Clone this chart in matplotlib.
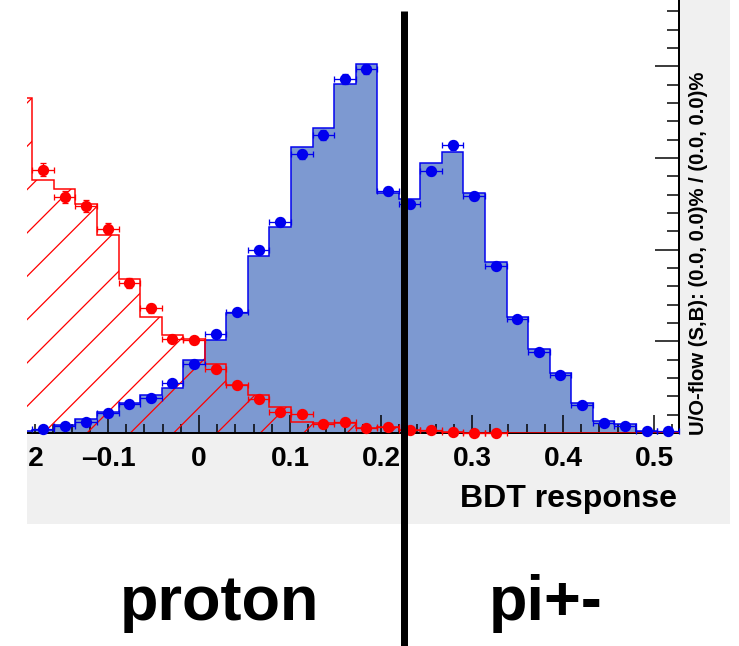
import numpy as np
import matplotlib
matplotlib.use("Agg")
import matplotlib.pyplot as plt
from matplotlib.patches import Rectangle
from matplotlib.lines import Line2D
from matplotlib.ticker import MultipleLocator

# BDT response histograms (normalised), 31 bins, first bin is mostly cut off on the left
BIN_LO, BIN_HI, N_BINS = -0.2069, 0.5275, 31

# signal (pi+-): test sample as filled histogram, training sample as points
sig_hist = [0.02, 0.033, 0.087, 0.153, 0.229, 0.327, 0.414, 0.491, 0.796, 1.014,
            1.309, 1.930, 2.246, 3.119, 3.326, 3.806, 4.024, 2.617, 2.552, 2.944,
            3.064, 2.617, 1.865, 1.265, 0.916, 0.654, 0.327, 0.131, 0.098, 0.027, 0.016]
sig_train = [0.040, 0.080, 0.117, 0.215, 0.313, 0.385, 0.542, 0.749, 1.076, 1.316,
             1.996, 2.304, 3.039, 3.250, 3.857, 3.970, 2.642, 2.494, 2.857, 3.137,
             2.581, 1.821, 1.240, 0.887, 0.633, 0.305, 0.106, 0.080, 0.025, 0.022]
sig_err = [0.006, 0.008, 0.010, 0.013, 0.016, 0.017, 0.021, 0.024, 0.029, 0.032,
           0.040, 0.043, 0.049, 0.051, 0.055, 0.056, 0.046, 0.044, 0.047, 0.050,
           0.045, 0.038, 0.031, 0.026, 0.022, 0.016, 0.009, 0.008, 0.004, 0.004]

# background (proton)
bkg_hist = [3.65, 2.76, 2.66, 2.50, 2.16, 1.68, 1.27, 1.07, 1.02, 0.75, 0.52,
            0.41, 0.28, 0.12, 0.11, 0.11, 0.05, 0.07, 0.03, 0.025, 0.01, 0.005,
            0.005, 0, 0, 0, 0, 0, 0, 0, 0]
bkg_train = [2.87, 2.57, 2.48, 2.23, 1.64, 1.36, 1.03, 1.01, 0.70, 0.52, 0.37,
             0.23, 0.21, 0.095, 0.12, 0.05, 0.06, 0.033, 0.033, 0.008, 0.003, 0.0]
bkg_err = [0.071, 0.067, 0.066, 0.063, 0.054, 0.049, 0.043, 0.042, 0.035, 0.030, 0.025,
           0.020, 0.019, 0.013, 0.015, 0.010, 0.011, 0.008, 0.008, 0.004, 0.002, 0.0]

xticks = [-0.2, -0.1, 0, 0.1, 0.2, 0.3, 0.4, 0.5]
xticklabels = ["\u20130.2", "\u20130.1", "0", "0.1", "0.2", "0.3", "0.4", "0.5"]

DPI = 130
W, H = 739, 646
PT = 72 / DPI  # points per pixel

plt.rcParams["font.family"] = ["Liberation Sans", "DejaVu Sans"]
plt.rcParams["font.weight"] = "bold"
plt.rcParams["hatch.linewidth"] = 0.7
plt.rcParams["hatch.color"] = "#ff0000"

fig = plt.figure(figsize=(W / DPI, H / DPI), dpi=DPI, facecolor="white")

# grey pad background
fig.add_artist(Rectangle((27 / W, 1 - 524 / H), (730 - 27) / W, 524 / H,
                         transform=fig.transFigure, facecolor="#f0f0f0",
                         edgecolor="none", zorder=-5))

# the frame continues past the left border of the picture
ax = fig.add_axes([0, 1 - 433 / H, 679 / W, 433 / H])
ax.set_facecolor("white")

edges = np.linspace(BIN_LO, BIN_HI, N_BINS + 1)
centers = 0.5 * (edges[:-1] + edges[1:])
half_w = 0.5 * (edges[1] - edges[0])

ax.stairs(sig_hist, edges, fill=True, facecolor="#7d99d1", edgecolor="none", zorder=1)
ax.stairs(bkg_hist, edges, fill=True, facecolor="none", edgecolor="#ff0000",
          linewidth=0, hatch="/", zorder=2)
ax.stairs(sig_hist, edges, color="#0000ee", linewidth=1.5 * PT, zorder=3)
ax.stairs(bkg_hist, edges, color="#ff0000", linewidth=1.5 * PT, zorder=3.5)

ax.errorbar(centers[1:1 + len(sig_train)], sig_train, xerr=half_w, yerr=sig_err,
            fmt="o", color="#0000ee", ms=9.5 * PT, elinewidth=1.3 * PT,
            capsize=3 * PT, capthick=1.3 * PT, clip_on=False, zorder=5)
ax.errorbar(centers[1:1 + len(bkg_train)], bkg_train, xerr=half_w, yerr=bkg_err,
            fmt="o", color="#ff0000", ms=9.5 * PT, elinewidth=1.3 * PT,
            capsize=3 * PT, capthick=1.3 * PT, clip_on=False, zorder=6)

ax.set_xticks(xticks)
ax.set_xticklabels(xticklabels)
ax.xaxis.set_minor_locator(MultipleLocator(0.02))
ax.set_xlim(-199 / 910, BIN_HI)
ax.set_ylim(0, 433 / 91.7)

ax.spines["top"].set_visible(False)
ax.spines["left"].set_visible(False)
ax.spines["bottom"].set_linewidth(2 * PT)
ax.spines["right"].set_linewidth(2 * PT)

ax.tick_params(axis="x", which="major", direction="in", length=18 * PT,
               width=1.5 * PT, labelsize=28 * PT, pad=7)
ax.tick_params(axis="x", which="minor", direction="in", length=9 * PT, width=1.5 * PT)

ax.yaxis.tick_right()
ax.yaxis.set_major_locator(MultipleLocator(1))
ax.yaxis.set_minor_locator(MultipleLocator(0.2))
ax.tick_params(axis="y", which="major", direction="in", length=24 * PT,
               width=1.5 * PT, labelright=False)
ax.tick_params(axis="y", which="minor", direction="in", length=12 * PT, width=1.5 * PT)

# axis title and overflow note
fig.text(677 / W, 1 - 507 / H, "BDT response", ha="right", va="baseline",
         fontsize=32 * PT, fontweight="bold")
fig.text(698 / W, 1 - 435 / H, "U/O-flow (S,B): (0.0, 0.0)% / (0.0, 0.0)%",
         rotation=90, ha="center", va="bottom", fontsize=20.3 * PT, fontweight="bold")

# cut line and class labels
fig.add_artist(Line2D([404 / W, 404 / W], [0, 1 - 10.7 / H], transform=fig.transFigure,
                      color="black", linewidth=7 * PT, solid_capstyle="butt", zorder=20))
fig.text(220 / W, 1 - 620 / H, "proton", ha="center", va="baseline",
         fontsize=63 * PT, fontweight="bold")
fig.text(546 / W, 1 - 620 / H, "pi+-", ha="center", va="baseline",
         fontsize=63 * PT, fontweight="bold")

# left part of the original canvas is cropped away
fig.add_artist(Rectangle((0, 0), 27 / W, 1, transform=fig.transFigure,
                         facecolor="white", edgecolor="none", zorder=15))

fig.savefig("out.png", dpi=DPI)
